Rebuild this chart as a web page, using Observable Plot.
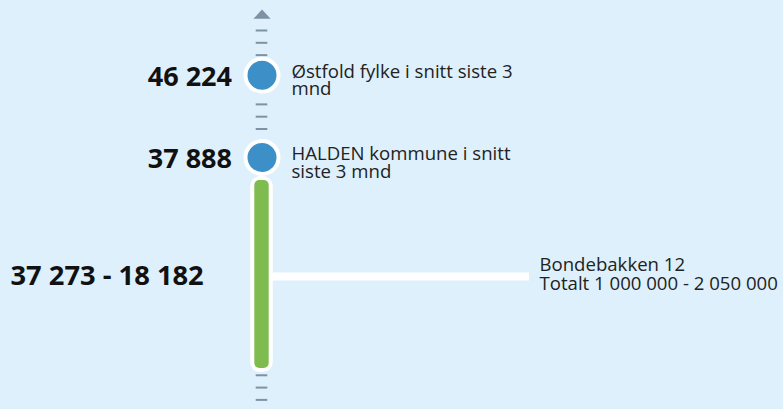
<!DOCTYPE html>
<html>
<head>
<meta charset="utf-8">
<script src="https://cdn.jsdelivr.net/npm/d3@7"></script>
<script src="https://cdn.jsdelivr.net/npm/@observablehq/plot@0.6"></script>
<style>
  html, body { margin: 0; padding: 0; background: #def0fc; }
  #chart { width: 783px; height: 409px; overflow: hidden; }
</style>
</head>
<body>
<div id="chart"></div>
<script>
// ---- data ----
const pointNames = ["Østfold fylke i snitt siste 3\nmnd", "HALDEN kommune i snitt\nsiste 3 mnd"];
const pointValues = [46224, 37888];
const rangeHigh = 37273;
const rangeLow = 18182;
const rangeName = "Bondebakken 12\nTotalt 1 000 000 - 2 050 000";
const tickStart = 15000, tickEnd = 52500, tickStep = 1250;
const arrowValue = 54160;

// ---- layout / style ----
const W = 783, H = 409;
const AXIS_X = 261.5;
const BG = "#def0fc";
const BLUE = "#3d8fc7";
const GREEN = "#7fbc4f";
const GRAY = "#7d92a5";

const nf = d3.formatLocale({thousands: " ", grouping: [3], decimal: ","}).format(",d");
const points = pointValues.map((v, i) => ({name: pointNames[i], value: v}));
const ranges = [{low: rangeLow, high: rangeHigh, mid: (rangeLow + rangeHigh) / 2, name: rangeName}];
const ticks = d3.range(tickStart, tickEnd + 1, tickStep);

const arrowSymbol = {
  draw(context) {
    context.moveTo(0, -4.7);
    context.lineTo(8.6, 4.7);
    context.lineTo(-8.6, 4.7);
    context.closePath();
  }
};

const chart = Plot.plot({
  width: W, height: H,
  margin: 0,
  style: {background: BG, fontFamily: "'Open Sans', sans-serif"},
  x: {type: "linear", domain: [0, W], range: [0, W], axis: null},
  y: {type: "linear", domain: [tickStart, tickEnd], range: [399.4, 30], axis: null},
  marks: [
    Plot.ruleY(ticks, {y: d => d, x1: AXIS_X - 5.8, x2: AXIS_X + 5.8, stroke: GRAY, strokeWidth: 2}),
    Plot.dot([arrowValue], {x: AXIS_X, y: d => d, symbol: arrowSymbol, fill: GRAY, stroke: "none", r: 5}),
    Plot.ruleY(ranges, {y: "mid", x1: AXIS_X, x2: 529, stroke: "white", strokeWidth: 8, dy: 2}),
    Plot.rect(ranges, {x1: AXIS_X - 11.3, x2: AXIS_X + 11.3, y1: "low", y2: "high", fill: "white", insetTop: -4, insetBottom: -4, rx: 10}),
    Plot.rect(ranges, {x1: AXIS_X - 7.2, x2: AXIS_X + 7.2, y1: "low", y2: "high", fill: GREEN, rx: 5}),
    Plot.dot(points, {x: AXIS_X, y: "value", r: 16.5, fill: BLUE, stroke: "white", strokeWidth: 4, dy: -17}),
    Plot.text(points, {x: AXIS_X, y: "value", text: d => nf(d.value), textAnchor: "end", lineAnchor: "middle", dx: -30, dy: -15, fontSize: 27, fontWeight: "bold", fill: "#111"}),
    Plot.text(points, {x: AXIS_X, y: "value", text: "name", textAnchor: "start", lineAnchor: "top", dx: 29.5, dy: -26.5, fontSize: 18.6, lineHeight: 0.93, fill: "#222"}),
    Plot.text(ranges, {x: 10, y: "mid", text: d => nf(d.high) + " - " + nf(d.low), textAnchor: "start", lineAnchor: "middle", dy: 1.5, fontSize: 27.3, fontWeight: "bold", fill: "#111"}),
    Plot.text(ranges, {x: 539, y: "mid", text: "name", textAnchor: "start", lineAnchor: "middle", fontSize: 18.6, lineHeight: 0.99, fill: "#222"})
  ]
});
document.getElementById("chart").appendChild(chart);
</script>
</body>
</html>
